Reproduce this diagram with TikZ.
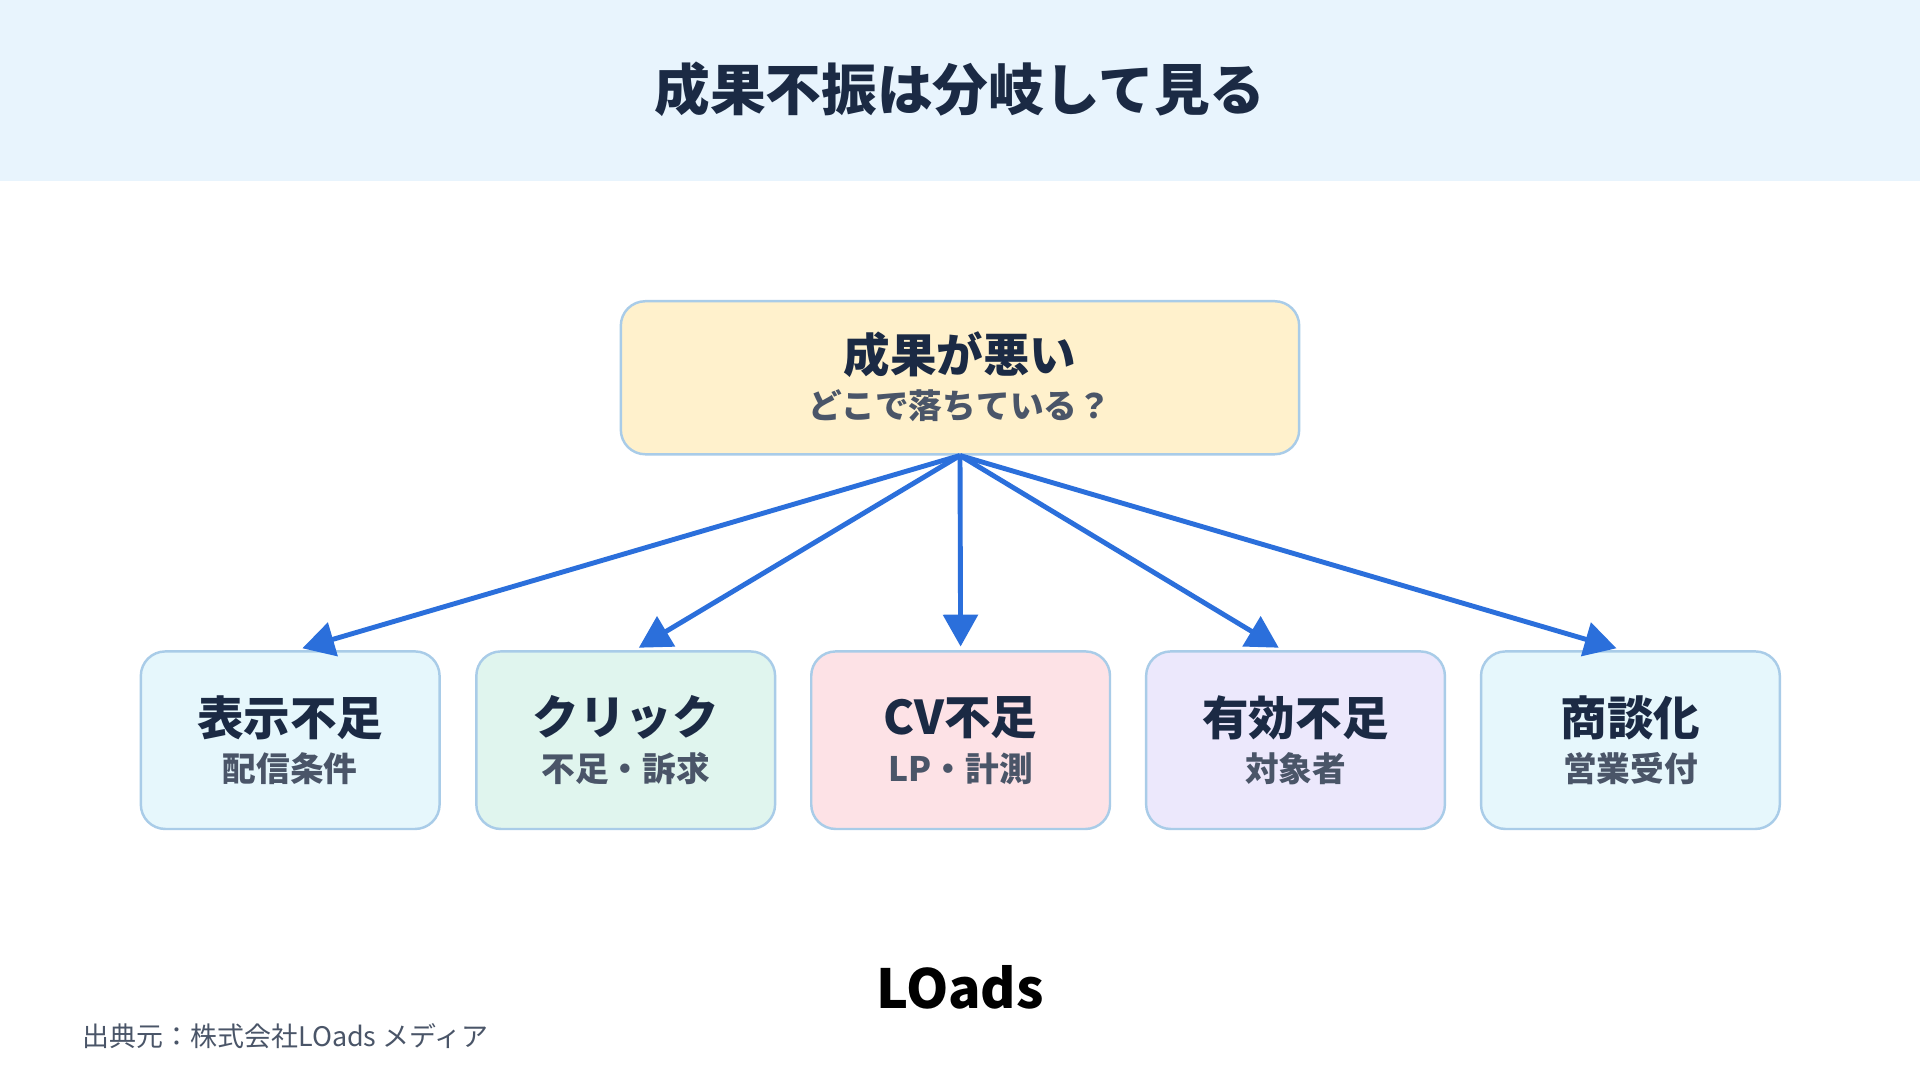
\documentclass[tikz,border=0pt]{standalone}
\usepackage{fontspec}
\setmainfont{Noto Sans CJK JP}
\usetikzlibrary{arrows.meta}
\definecolor{band}{HTML}{E8F4FD}
\definecolor{navy}{HTML}{1B2A44}
\definecolor{sub}{HTML}{4A5568}
\definecolor{edge}{HTML}{A9CCE8}
\definecolor{arr}{HTML}{2B6FDB}
\definecolor{cY}{HTML}{FFF1CC}
\definecolor{cB}{HTML}{E6F7FC}
\definecolor{cG}{HTML}{E0F5EE}
\definecolor{cR}{HTML}{FDE2E6}
\definecolor{cP}{HTML}{ECE8FC}
\begin{document}
\begin{tikzpicture}[x=1pt,y=-1pt,
  card/.style={draw=edge,line width=2pt,rounded corners=20pt,minimum width=244pt,minimum height=145pt},
  ttl/.style={font=\fontsize{38}{42}\selectfont\bfseries,text=navy},
  sbt/.style={font=\fontsize{27.5}{31}\selectfont\bfseries,text=sub},
  link/.style={draw=arr,line width=4pt,-{Triangle[length=26pt,width=28pt]},shorten >=2pt}]
\useasboundingbox (0,0) rectangle (1568,882);
\fill[white] (0,0) rectangle (1568,882);
\fill[band] (0,0) rectangle (1568,148);
\node[font=\fontsize{45.5}{50}\selectfont\bfseries,text=navy] (title) at (784,73) {成果不振は分岐して見る};
\node[card,fill=cY,minimum width=554pt,minimum height=125pt] (top) at (784,308.5) {};
\node[ttl] (topt) at (784,290) {成果が悪い};
\node[sbt] (tops) at (784,331) {どこで落ちている？};
\foreach \n/\x/\c/\a/\b in {b1/237/cB/表示不足/配信条件, b2/511/cG/クリック/不足・訴求, b3/784.5/cR/CV不足/LP・計測, b4/1058/cP/有効不足/対象者, b5/1331.5/cB/商談化/営業受付}{
  \node[card,fill=\c] (\n) at (\x,604.5) {};
  \node[ttl] (\n t) at (\x,586) {\a};
  \node[sbt] (\n s) at (\x,628) {\b};
}
\coordinate (src) at (784,372);
\coordinate (e1) at (245,530);
\coordinate (e2) at (520,530);
\coordinate (e3) at (784.5,530);
\coordinate (e4) at (1046,530);
\coordinate (e5) at (1322,530);
\foreach \i in {1,...,5}{\draw[link] (src) -- (e\i);}
\node[font=\fontsize{44}{48}\selectfont\bfseries,text=black] (logo) at (784,806) {LOads};
\node[anchor=west,font=\fontsize{22}{26}\selectfont,text=sub] (foot) at (64,846) {出典元：株式会社LOads メディア};
\end{tikzpicture}
\end{document}
